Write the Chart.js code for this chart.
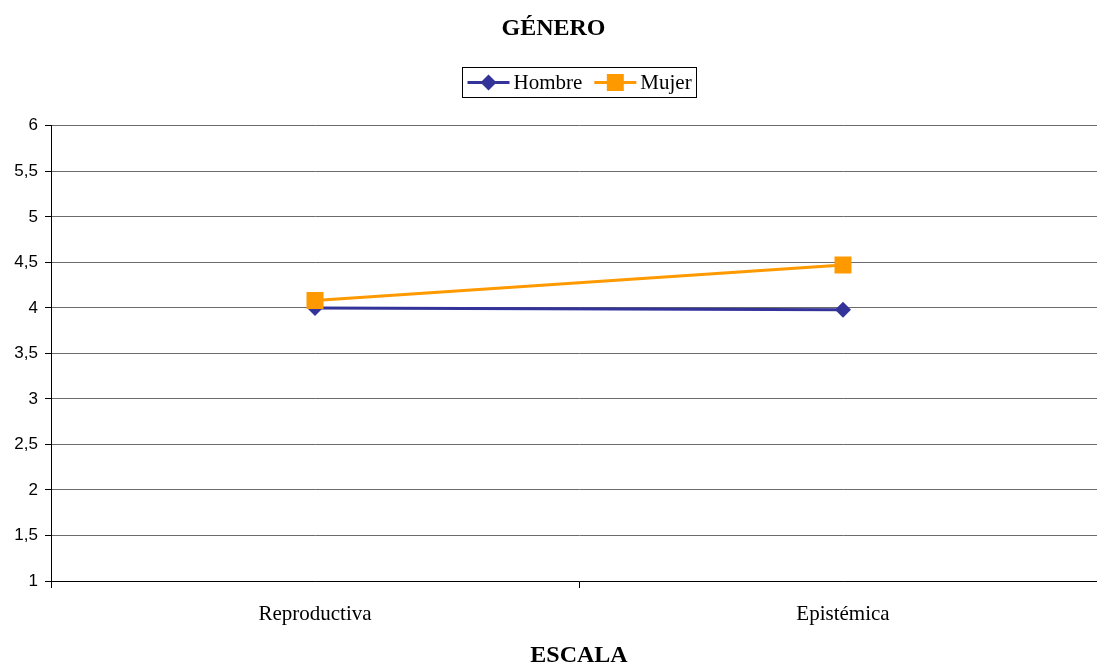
<!DOCTYPE html>
<html>
<head>
<meta charset="utf-8">
<script src="https://cdn.jsdelivr.net/npm/chart.js@4/dist/chart.umd.min.js"></script>
<style>
  html, body { margin: 0; padding: 0; background: #fff; overflow: hidden; }
  #wrap { width: 1097px; height: 664px; overflow: hidden; }
</style>
</head>
<body>
<div id="wrap"><canvas id="chart" width="1120" height="680"></canvas></div>
<script>
const categories = ['Reproductiva', 'Epistémica'];
const seriesNames = ['Hombre', 'Mujer'];
const hombre = [4.0, 3.98];
const mujer = [4.08, 4.47];
const yMin = 1, yMax = 6, yStep = 0.5;

const NAVY = '#333399';
const ORANGE = '#FF9900';
const SERIF = '"Liberation Serif", "Times New Roman", serif';
const SANS = '"Liberation Sans", Arial, sans-serif';

// boxed legend with a line + marker sample, centred over the plot area
const boxLegend = {
    id: 'boxLegend',
    afterDraw(chart) {
        const ctx = chart.ctx;
        const area = chart.chartArea;
        const sets = chart.data.datasets;
        const sampleW = 42, gap = 4, spacing = 12, padL = 5, padR = 5, h = 30;
        ctx.save();
        ctx.font = '21px ' + SERIF;
        const widths = sets.map(d => ctx.measureText(d.label).width);
        let total = padL + padR;
        widths.forEach((w, i) => { total += sampleW + gap + w + (i ? spacing : 0); });
        const cx = (area.left + area.right) / 2;
        const top = 67;
        let x = Math.round(cx - total / 2) + 0.5;
        ctx.strokeStyle = '#000';
        ctx.lineWidth = 1;
        ctx.strokeRect(x, top + 0.5, Math.round(total), h);
        x += padL;
        const cy = top + h / 2 + 0.5;
        sets.forEach((d, i) => {
            if (i) x += spacing;
            ctx.strokeStyle = d.borderColor;
            ctx.lineWidth = 3;
            ctx.beginPath();
            ctx.moveTo(x, cy);
            ctx.lineTo(x + sampleW, cy);
            ctx.stroke();
            ctx.fillStyle = d.backgroundColor;
            ctx.beginPath();
            const r = d.pointRadius;
            const mx = x + sampleW / 2;
            if (d.pointStyle === 'rect') {
                const s = Math.SQRT1_2 * r;
                ctx.fillRect(mx - s, cy - s, 2 * s, 2 * s);
            } else {
                ctx.moveTo(mx, cy - r);
                ctx.lineTo(mx + r, cy);
                ctx.lineTo(mx, cy + r);
                ctx.lineTo(mx - r, cy);
                ctx.closePath();
                ctx.fill();
            }
            x += sampleW + gap;
            ctx.fillStyle = '#000';
            ctx.textBaseline = 'middle';
            ctx.fillText(d.label, x, cy + 1);
            x += widths[i];
        });
        ctx.restore();
    }
};

new Chart(document.getElementById('chart'), {
    type: 'line',
    data: {
        labels: categories,
        datasets: [{
            label: seriesNames[0],
            data: hombre,
            borderColor: NAVY,
            backgroundColor: NAVY,
            borderWidth: 3,
            pointStyle: 'rectRot',
            pointRadius: 8,
            pointBorderWidth: 0,
            order: 1
        }, {
            label: seriesNames[1],
            data: mujer,
            borderColor: ORANGE,
            backgroundColor: ORANGE,
            borderWidth: 3,
            pointStyle: 'rect',
            pointRadius: 12,
            pointBorderWidth: 0,
            order: 0
        }]
    },
    options: {
        responsive: false,
        animation: false,
        layout: { padding: { left: 0, right: 13, top: 0, bottom: 0 } },
        plugins: {
            legend: { display: false },
            tooltip: { enabled: false },
            title: {
                display: true,
                text: 'GÉNERO',
                color: '#000',
                font: { family: SERIF, size: 24, weight: 'bold' },
                padding: { top: 14, bottom: 83 }
            }
        },
        scales: {
            x: {
                offset: true,
                border: { color: '#000', width: 1 },
                grid: { offset: true, drawOnChartArea: false, drawTicks: true, tickLength: 7, color: '#000' },
                ticks: { color: '#000', padding: 14, font: { family: SERIF, size: 21 } },
                title: {
                    display: true,
                    text: 'ESCALA',
                    color: '#000',
                    font: { family: SERIF, size: 24, weight: 'bold' },
                    padding: { top: 0, bottom: 10 }
                }
            },
            y: {
                min: yMin,
                max: yMax,
                border: { color: '#000', width: 1 },
                grid: { color: '#6b6b6b', tickColor: '#000', tickLength: 6 },
                ticks: {
                    stepSize: yStep,
                    color: '#000',
                    padding: 7,
                    font: { family: SANS, size: 17 },
                    callback: v => String(v).replace('.', ',')
                },
                afterFit(scale) { scale.width = 51; }
            }
        }
    },
    plugins: [boxLegend]
});
</script>
</body>
</html>
